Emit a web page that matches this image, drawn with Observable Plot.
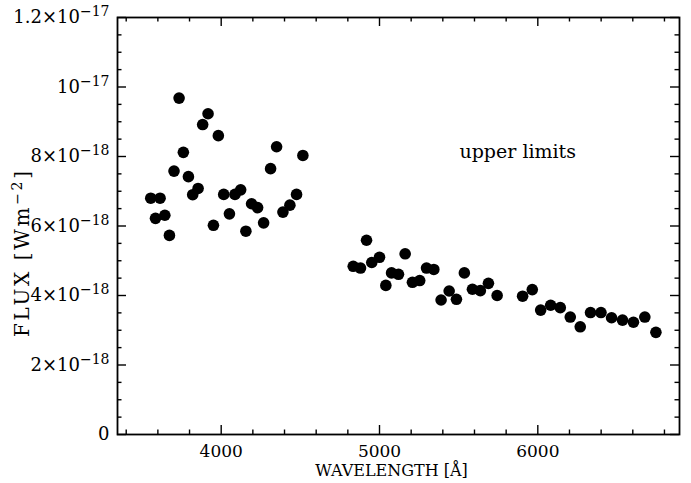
<!DOCTYPE html>
<html><head><meta charset="utf-8">
<script src="https://cdn.jsdelivr.net/npm/d3@7"></script>
<script src="https://cdn.jsdelivr.net/npm/@observablehq/plot@0.6"></script>
<style>body{margin:0;background:#fff}</style>
</head><body><div id="chart"></div>
<script>
// Wavelength (Å) and flux (W m^-2) of the plotted points
const wavelength = [
  3555, 3614, 3585, 3644, 3673, 3702, 3734, 3761, 3793, 3820,
  3854, 3883, 3917, 3951, 3982, 4016, 4052, 4087, 4123, 4156,
  4192, 4230, 4268, 4312, 4350, 4390, 4434, 4476, 4516,
  4834, 4880, 4918, 4951, 5000, 5040, 5076, 5120, 5162, 5208,
  5254, 5297, 5343, 5389, 5440, 5486, 5536, 5587, 5637, 5688,
  5743, 5904, 5965, 6018, 6081, 6142, 6205, 6268, 6333, 6399,
  6466, 6535, 6604, 6676, 6746
];
const flux = [
  6.80e-18, 6.80e-18, 6.22e-18, 6.31e-18, 5.73e-18, 7.58e-18, 9.68e-18, 8.12e-18, 7.42e-18, 6.90e-18,
  7.08e-18, 8.92e-18, 9.23e-18, 6.02e-18, 8.60e-18, 6.91e-18, 6.35e-18, 6.91e-18, 7.04e-18, 5.85e-18,
  6.64e-18, 6.53e-18, 6.09e-18, 7.65e-18, 8.28e-18, 6.40e-18, 6.60e-18, 6.91e-18, 8.03e-18,
  4.84e-18, 4.79e-18, 5.59e-18, 4.95e-18, 5.10e-18, 4.29e-18, 4.65e-18, 4.61e-18, 5.20e-18, 4.38e-18,
  4.43e-18, 4.79e-18, 4.75e-18, 3.87e-18, 4.13e-18, 3.89e-18, 4.65e-18, 4.18e-18, 4.14e-18, 4.35e-18,
  4.00e-18, 3.98e-18, 4.17e-18, 3.58e-18, 3.72e-18, 3.65e-18, 3.38e-18, 3.10e-18, 3.51e-18, 3.51e-18,
  3.36e-18, 3.29e-18, 3.23e-18, 3.38e-18, 2.94e-18
];
const xTicks = [4000, 5000, 6000];
const xMinorTicks = [3400, 3600, 3800, 4200, 4400, 4600, 4800, 5200, 5400, 5600, 5800, 6200, 6400, 6600, 6800];
const yTicks = [0, 2e-18, 4e-18, 6e-18, 8e-18, 1e-17, 1.2e-17];
const yMinorTicks = [0.5, 1, 1.5, 2.5, 3, 3.5, 4.5, 5, 5.5, 6.5, 7, 7.5, 8.5, 9, 9.5, 10.5, 11, 11.5].map(v => v * 1e-18);
const xLabel = "WAVELENGTH [Å]";
const yLabel = "FLUX [Wm|−2|]";
const annotation = {text: "upper limits", x: 5505, y: 8.12e-18};

const points = wavelength.map((w, i) => ({w, f: flux[i]}));

const W = 691, H = 483, mL = 117, mR = 12, mT = 17, mB = 49;
const iw = W - mL - mR, ih = H - mT - mB;
const major = 9, minor = 4.5;

function fmtY(d) {
  if (d === 0) return "0";
  const e = Math.floor(Math.log10(d) + 1e-9);
  const m = Math.round(d / Math.pow(10, e) * 10) / 10;
  const exp = "−" + String(-e);
  return (m === 1 ? "" : m + "×") + "10|" + exp;
}

const font = "DejaVu Serif";
const plot = Plot.plot({
  width: W, height: H,
  marginLeft: mL, marginRight: mR, marginTop: mT, marginBottom: mB,
  style: `font-family: '${font}'; font-size: 16px; background: white; color: black;`,
  x: {domain: [3345, 6895], label: null},
  y: {domain: [0, 1.2e-17], label: null},
  marks: [
    Plot.frame({stroke: "black", strokeWidth: 1.8}),
    // bottom & top ticks
    Plot.ruleX(xTicks, {stroke: "black", strokeWidth: 1.4, insetTop: ih - major}),
    Plot.ruleX(xMinorTicks, {stroke: "black", strokeWidth: 1.4, insetTop: ih - minor}),
    Plot.ruleX(xTicks, {stroke: "black", strokeWidth: 1.4, insetBottom: ih - major}),
    Plot.ruleX(xMinorTicks, {stroke: "black", strokeWidth: 1.4, insetBottom: ih - minor}),
    // left & right ticks
    Plot.ruleY(yTicks, {stroke: "black", strokeWidth: 1.4, insetRight: iw - major}),
    Plot.ruleY(yMinorTicks, {stroke: "black", strokeWidth: 1.4, insetRight: iw - minor}),
    Plot.ruleY(yTicks, {stroke: "black", strokeWidth: 1.4, insetLeft: iw - major}),
    Plot.ruleY(yMinorTicks, {stroke: "black", strokeWidth: 1.4, insetLeft: iw - minor}),
    Plot.axisX({ticks: xTicks, tickSize: 0, tickPadding: 10, tickFormat: d => String(d), fontSize: 17, label: null}),
    Plot.axisY({ticks: yTicks, tickSize: 0, tickPadding: 8, tickFormat: fmtY, fontSize: 18, label: null}),
    Plot.text([xLabel], {frameAnchor: "bottom", lineAnchor: "middle", dy: 36, dx: -7, fontSize: 16, text: d => d}),
    Plot.text([yLabel], {frameAnchor: "left", textAnchor: "middle", lineAnchor: "middle", rotate: -90, dx: -95, dy: 28, fontSize: 20, text: d => d}),
    Plot.text([annotation], {x: "x", y: "y", text: "text", textAnchor: "start", fontSize: 19}),
    Plot.dot(points, {x: "w", y: "f", r: 5.8, fill: "black", stroke: "none"})
  ]
});

// Render superscripts: "base|sup|suffix"
const ns = "http://www.w3.org/2000/svg";
plot.querySelectorAll("text").forEach(t => {
  const s = t.textContent;
  if (!s.includes("|")) return;
  const parts = s.split("|");
  const isLabel = parts[2] !== undefined;
  const base = isLabel ? 20 : 18;
  const sup = 14;
  while (t.firstChild) t.removeChild(t.firstChild);
  t.style.fontSize = base + "px";
  const a = document.createElementNS(ns, "tspan");
  a.textContent = parts[0];
  t.appendChild(a);
  const b = document.createElementNS(ns, "tspan");
  b.textContent = parts[1];
  b.style.fontSize = sup + "px";
  b.setAttribute("dy", "-7");
  t.appendChild(b);
  if (isLabel && parts[2] !== "") {
    const c = document.createElementNS(ns, "tspan");
    c.textContent = parts[2];
    c.setAttribute("dy", "7");
    t.appendChild(c);
    t.setAttribute("textLength", "166");
    t.setAttribute("lengthAdjust", "spacing");
  }
});

document.getElementById("chart").appendChild(plot);
</script>
</body></html>
